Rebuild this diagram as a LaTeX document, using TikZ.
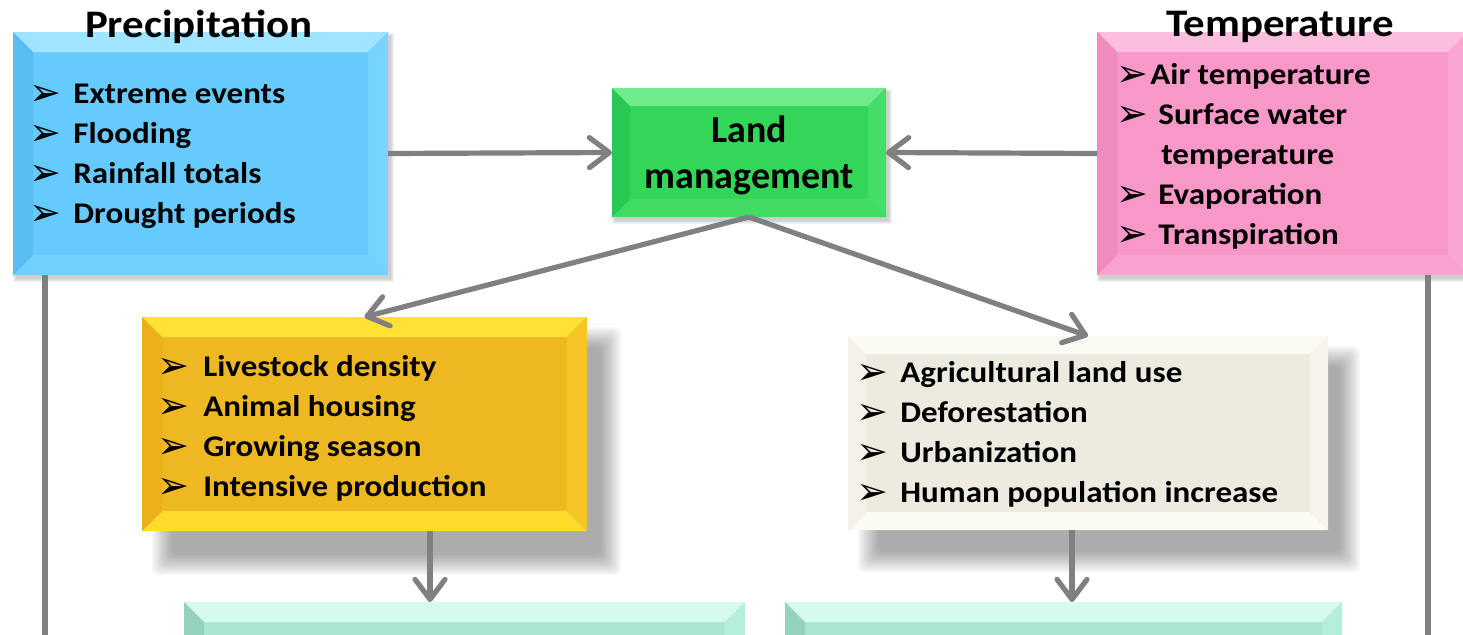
\documentclass[tikz,border=0pt]{standalone}
\usepackage{fontspec}
\setmainfont{Carlito}
\newfontfamily\wide{Carlito}[FakeStretch=1.1]
\newfontfamily\dejavu{DejaVu Sans}
\usetikzlibrary{arrows.meta}
\definecolor{precbase}{RGB}{102,202,252}
\definecolor{prectop}{RGB}{160,228,255}
\definecolor{precleft}{RGB}{88,190,242}
\definecolor{precright}{RGB}{118,212,255}
\definecolor{precbot}{RGB}{112,208,254}
\definecolor{landbase}{RGB}{52,214,90}
\definecolor{landtop}{RGB}{112,236,140}
\definecolor{landleft}{RGB}{42,200,80}
\definecolor{landright}{RGB}{66,222,104}
\definecolor{landbot}{RGB}{64,220,100}
\definecolor{tempbase}{RGB}{247,152,201}
\definecolor{temptop}{RGB}{252,190,222}
\definecolor{templeft}{RGB}{238,140,190}
\definecolor{tempright}{RGB}{250,166,210}
\definecolor{tempbot}{RGB}{249,162,207}
\definecolor{livebase}{RGB}{238,184,34}
\definecolor{livetop}{RGB}{255,226,50}
\definecolor{liveleft}{RGB}{236,176,28}
\definecolor{liveright}{RGB}{246,198,40}
\definecolor{livebot}{RGB}{254,220,44}
\definecolor{agribase}{RGB}{237,234,223}
\definecolor{agritop}{RGB}{250,249,242}
\definecolor{agrileft}{RGB}{244,242,232}
\definecolor{agriright}{RGB}{246,244,234}
\definecolor{agribot}{RGB}{251,250,243}
\definecolor{tealbase}{RGB}{170,230,210}
\definecolor{tealtop}{RGB}{215,250,238}
\definecolor{tealleft}{RGB}{148,210,188}
\definecolor{tealright}{RGB}{182,238,220}
\definecolor{connc}{RGB}{128,128,128}
\newcommand\mybul[1]{\llap{\raisebox{-1pt}{\dejavu\fontsize{19}{19}\selectfont ➢}\hspace{#1}}}
\begin{document}
\begin{tikzpicture}[x=0.5pt,y=-0.5pt,
  bevel/.style n args={6}{fill=#1, draw=none, inner sep=0pt, outer sep=0pt,
    path picture={
      \fill[#2] (path picture bounding box.north west) -- (path picture bounding box.north east)
        -- ([shift={(-#6,-#6)}]path picture bounding box.north east) -- ([shift={(#6,-#6)}]path picture bounding box.north west) -- cycle;
      \fill[#5] (path picture bounding box.south west) -- (path picture bounding box.south east)
        -- ([shift={(-#6,#6)}]path picture bounding box.south east) -- ([shift={(#6,#6)}]path picture bounding box.south west) -- cycle;
      \fill[#3] (path picture bounding box.north west) -- (path picture bounding box.south west)
        -- ([shift={(#6,#6)}]path picture bounding box.south west) -- ([shift={(#6,-#6)}]path picture bounding box.north west) -- cycle;
      \fill[#4] (path picture bounding box.north east) -- (path picture bounding box.south east)
        -- ([shift={(-#6,#6)}]path picture bounding box.south east) -- ([shift={(-#6,-#6)}]path picture bounding box.north east) -- cycle;
    }},
  itm/.style={anchor=base west, inner sep=0pt, font=\wide\bfseries\fontsize{15}{18}\selectfont},
  ttl/.style={anchor=base, inner sep=0pt, font=\wide\bfseries\fontsize{19.5}{23}\selectfont},
  lnd/.style={anchor=base, inner sep=0pt, font=\bfseries\fontsize{19}{23}\selectfont},
  conn/.style={draw=connc, line width=2.6pt},
  arr/.style={conn, -{Straight Barb[length=10pt,width=15pt,round]}},
  shade/.style={black,opacity=0.035,rounded corners=3pt},
]
\useasboundingbox (0,0) rectangle (1463,634);

\path (200.5,153.5) coordinate (cprec) (749,152.5) coordinate (cland) (1282.5,153.5) coordinate (ctemp)
      (364.5,424) coordinate (clive) (1088,433) coordinate (cagri) (464.5,642) coordinate (cbotl) (1063.5,642) coordinate (cbotr);

% soft drop shadows
\foreach \s in {0,2,...,20}{
  \fill[shade] ([shift={(30-\s-222.5,30-\s-107)}]clive) rectangle ([shift={(14+\s+222.5,24+\s+107)}]clive);
  \fill[shade] ([shift={(30-\s-240,30-\s-97)}]cagri) rectangle ([shift={(12+\s+240,22+\s+97)}]cagri);
}
\foreach \s in {0,1,2,3}{
  \fill[black,opacity=0.05] ([shift={(3-\s-187.5,4-\s-121.5)}]cprec) rectangle ([shift={(3+\s+187.5,4+\s+121.5)}]cprec);
  \fill[black,opacity=0.05] ([shift={(3-\s-137,4-\s-64.5)}]cland) rectangle ([shift={(3+\s+137,4+\s+64.5)}]cland);
  \fill[black,opacity=0.05] ([shift={(3-\s-185.5,4-\s-121.5)}]ctemp) rectangle ([shift={(3+\s+185.5,4+\s+121.5)}]ctemp);
}

\coordinate (lbot) at (45,640);
\coordinate (rbot) at (1428,640);

\node[bevel={precbase}{prectop}{precleft}{precright}{precbot}{10pt}, minimum width=187.5pt, minimum height=121.5pt] (prec) at (cprec) {};
\node[bevel={landbase}{landtop}{landleft}{landright}{landbot}{9pt}, minimum width=137pt, minimum height=64.5pt] (land) at (cland) {};
\node[bevel={tempbase}{temptop}{templeft}{tempright}{tempbot}{10pt}, minimum width=185.5pt, minimum height=121.5pt] (temp) at (ctemp) {};
\node[bevel={livebase}{livetop}{liveleft}{liveright}{livebot}{10pt}, minimum width=222.5pt, minimum height=107pt] (live) at (clive) {};
\node[bevel={agribase}{agritop}{agrileft}{agriright}{agribot}{9pt}, minimum width=240pt, minimum height=97pt] (agri) at (cagri) {};
\node[bevel={tealbase}{tealtop}{tealleft}{tealright}{tealbase}{10pt}, minimum width=280.5pt, minimum height=40pt] (botl) at (cbotl) {};
\node[bevel={tealbase}{tealtop}{tealleft}{tealright}{tealbase}{10pt}, minimum width=278.5pt, minimum height=40pt] (botr) at (cbotr) {};

\draw[conn] (lbot |- prec.south) -- (lbot);
\draw[conn] (rbot |- temp.south) -- (rbot);

% titles
\node[ttl] (tprec) at (199,37) {Precipitation};
\node[ttl] (ttemp) at (1280,36) {Temperature};
\node[lnd] (tl1) at (749,142) {Land};
\node[lnd] (tl2) at (749,188) {management};

% precipitation items
\node[itm] (p1) at (73,103) {\mybul{6pt}Extreme events};
\node[itm] (p2) at (73,143) {\mybul{6pt}Flooding};
\node[itm] (p3) at (73,183) {\mybul{6pt}Rainfall totals};
\node[itm] (p4) at (73,223) {\mybul{6pt}Drought periods};

% temperature items
\node[itm] (t1) at (1150,84) {\mybul{1pt}Air temperature};
\node[itm] (t2) at (1158,124) {\mybul{5pt}Surface water};
\node[itm] (t3) at (1161,164) {temperature};
\node[itm] (t4) at (1158,204) {\mybul{5pt}Evaporation};
\node[itm] (t5) at (1158,244) {\mybul{5pt}Transpiration};

% livestock items
\node[itm] (l1) at (203,376) {\mybul{7pt}Livestock density};
\node[itm] (l2) at (203,416) {\mybul{7pt}Animal housing};
\node[itm] (l3) at (203,456) {\mybul{7pt}Growing season};
\node[itm] (l4) at (203,496) {\mybul{7pt}Intensive production};

% agriculture items
\node[itm] (a1) at (900,382) {\mybul{6pt}Agricultural land use};
\node[itm] (a2) at (900,422) {\mybul{6pt}Deforestation};
\node[itm] (a3) at (900,462) {\mybul{6pt}Urbanization};
\node[itm] (a4) at (900,502) {\mybul{6pt}Human population increase};

% connectors
\draw[arr] (prec.east) -- (land.west);
\draw[arr] (temp.west) -- (land.east);
\draw[arr] (land.south) -- (live.north);
\draw[arr] (land.south) -- (agri.north);
\coordinate (ldx) at (430,0);
\coordinate (rdx) at (1072,0);
\draw[arr] (live.south -| ldx) -- (botl.north -| ldx);
\draw[arr] (agri.south -| rdx) -- (botr.north -| rdx);
\end{tikzpicture}
\end{document}
